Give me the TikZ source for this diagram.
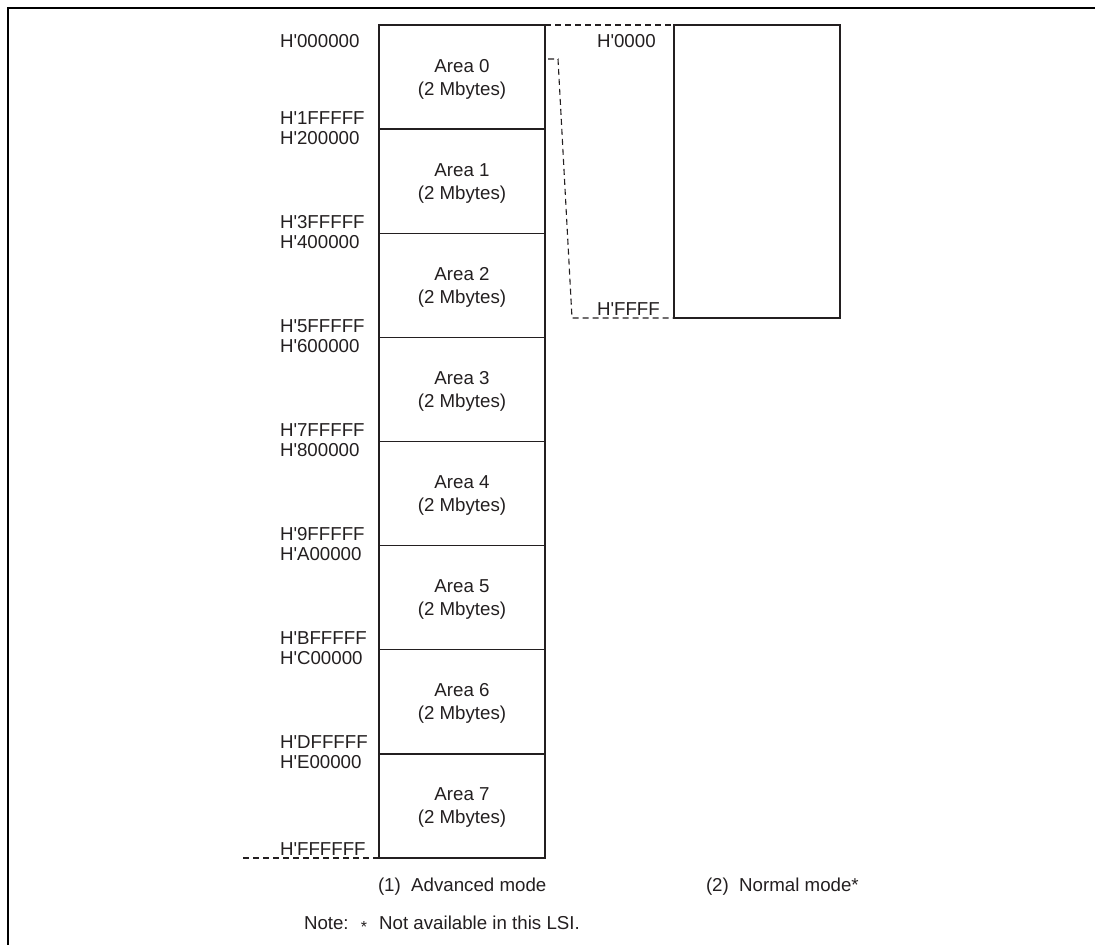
\documentclass[tikz,border=0pt]{standalone}
\usepackage{fontspec}
\setmainfont{Liberation Sans}
\definecolor{ink}{HTML}{231F20}
\newcommand{\hq}{\textquotesingle}
\begin{document}
\begin{tikzpicture}[x=1pt,y=-1pt,
  every node/.style={font=\fontsize{18.7}{23}\selectfont, text=ink, inner sep=0pt, outer sep=0pt},
  framestyle/.style={line width=2pt, draw=black},
  areabox/.style={draw=ink, line width=1.4pt, minimum width=166pt, minimum height=104.125pt},
  heavybox/.style={draw=ink, line width=2.4pt},
  dsh/.style={draw=ink, line width=1.1pt, dash pattern=on 6pt off 4pt},
  addr/.style={anchor=base west}
]
\useasboundingbox (0,0) rectangle (1095,945);
\draw[framestyle] (1095,8) -- (8,8) -- (8,945);

% Advanced mode areas
\foreach \i in {0,...,7} {
  \pgfmathsetmacro{\cy}{25+104.125*\i+52.0625}
  \node[areabox] (area\i) at (462,\cy) {};
  \pgfmathsetmacro{\ya}{\cy-5}
  \pgfmathsetmacro{\yb}{\cy+18}
  \node[anchor=base] (t\i) at (462,\ya) {Area \i};
  \node[anchor=base] (m\i) at (462,\yb) {(2 Mbytes)};
}
\draw[heavybox] (area0.north west) rectangle (area7.south east);

% start addresses
\foreach \i/\s in {0/000000,1/200000,2/400000,3/600000,4/800000,5/A00000,6/C00000,7/E00000} {
  \pgfmathsetmacro{\yy}{ifthenelse(\i==0,47,25+104.125*\i+15)}
  \node[addr] (s\i) at (280,\yy) {H\hq\s};
}
% end addresses
\foreach \i/\s in {0/1FFFFF,1/3FFFFF,2/5FFFFF,3/7FFFFF,4/9FFFFF,5/BFFFFF,6/DFFFFF,7/FFFFFF} {
  \pgfmathsetmacro{\yy}{ifthenelse(\i==7,855,25+104.125*(\i+1)-5)}
  \node[addr] (e\i) at (280,\yy) {H\hq\s};
}

% Normal mode box
\node[draw=ink, line width=2.4pt, minimum width=166pt, minimum height=293pt] (nbox) at (757,171.5) {};
\node[addr] (n0) at (597,47) {H\hq 0000};
\node[addr] (n1) at (597,315) {H\hq FFFF};

% dashed connectors
\coordinate (d1) at (548,59);
\coordinate (d2) at (558,59);
\coordinate (d3) at (572,318);
\coordinate (bl) at (243,858);
\draw[dsh] (area0.north east) -- (nbox.north west);
\draw[dsh] (d1) -- (d2) -- (d3) -- (nbox.south west);
\draw[dsh] (bl) -- (area7.south west);

% captions
\node[anchor=base west] (cap1) at (378,891) {(1)~~Advanced mode};
\node[anchor=base west] (cap2) at (706,891) {(2)~~Normal mode*};
\node[anchor=base west] (note) at (304,929) {Note:\makebox[30.5pt]{\raisebox{-3pt}{\fontsize{16}{16}\selectfont *}}Not available in this LSI.};
\end{tikzpicture}
\end{document}
